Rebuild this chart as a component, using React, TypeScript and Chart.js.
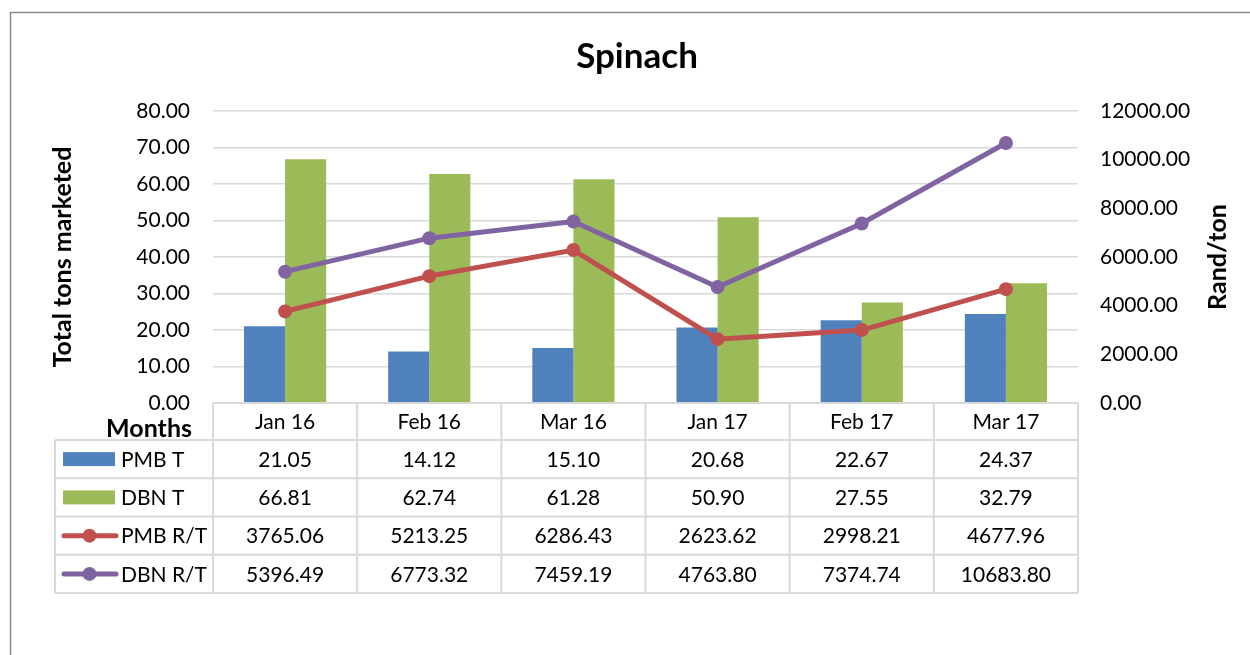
import React, { useEffect, useRef } from "react";
import { Chart, registerables } from "chart.js";

Chart.register(...registerables);

const categories = ["Jan 16", "Feb 16", "Mar 16", "Jan 17", "Feb 17", "Mar 17"];
const pmbTons = [21.05, 14.12, 15.1, 20.68, 22.67, 24.37];
const dbnTons = [66.81, 62.74, 61.28, 50.9, 27.55, 32.79];
const pmbPrice = [3765.06, 5213.25, 6286.43, 2623.62, 2998.21, 4677.96];
const dbnPrice = [5396.49, 6773.32, 7459.19, 4763.8, 7374.74, 10683.8];
const seriesNames = ["PMB T", "DBN T", "PMB R/T", "DBN R/T"];

const FONT = "Lato, 'Liberation Sans', sans-serif";
const GRID = "#d9d9d9";

const tablePlugin = {
  id: "dataTable",
  beforeDraw(chart: any) {
    const ctx = chart.ctx;
    ctx.save();
    ctx.fillStyle = "#ffffff";
    ctx.fillRect(0, 0, chart.width, chart.height);
    ctx.strokeStyle = "#8a8a8a";
    ctx.lineWidth = 1.5;
    ctx.strokeRect(10.5, 12.5, chart.width + 20, chart.height + 20);
    ctx.restore();
  },
  afterDraw(chart: any) {
    const ctx = chart.ctx;
    const { left, right, bottom, top } = chart.chartArea;
    const xs = chart.scales.x;
    const n = categories.length;
    const colW = (right - left) / n;
    const headerBottom = bottom + 37;
    const rowH = 38.25;
    const tableLeft = 55;
    const tableBottom = headerBottom + rowH * 4;

    ctx.save();
    ctx.strokeStyle = GRID;
    ctx.lineWidth = 2;
    ctx.beginPath();
    ctx.moveTo(left, bottom);
    ctx.lineTo(right, bottom);
    for (let r = 0; r <= 4; r++) {
      const y = headerBottom + r * rowH;
      ctx.moveTo(tableLeft, y);
      ctx.lineTo(right, y);
    }
    ctx.moveTo(tableLeft, headerBottom);
    ctx.lineTo(tableLeft, tableBottom);
    for (let c = 0; c <= n; c++) {
      const x = left + c * colW;
      ctx.moveTo(x, bottom);
      ctx.lineTo(x, tableBottom);
    }
    ctx.stroke();

    ctx.fillStyle = "#000";
    ctx.textBaseline = "middle";
    ctx.font = `21px ${FONT}`;
    ctx.textAlign = "center";
    categories.forEach((c, i) => {
      ctx.fillText(c, xs.getPixelForValue(i), (bottom + headerBottom) / 2 + 1);
    });

    ctx.font = `bold 25px ${FONT}`;
    ctx.textAlign = "right";
    ctx.fillText("Months", 192, headerBottom - 11);

    const rowsData = [pmbTons, dbnTons, pmbPrice, dbnPrice];
    rowsData.forEach((vals, r) => {
      const cy = headerBottom + r * rowH + rowH / 2;
      const ds = chart.data.datasets[r];
      if (r < 2) {
        ctx.fillStyle = ds.backgroundColor;
        ctx.fillRect(63, cy - 7, 52, 14);
      } else {
        ctx.strokeStyle = ds.borderColor;
        ctx.lineWidth = 5;
        ctx.lineCap = "round";
        ctx.beginPath();
        ctx.moveTo(64, cy);
        ctx.lineTo(116, cy);
        ctx.stroke();
        ctx.fillStyle = ds.borderColor;
        ctx.beginPath();
        ctx.arc(89.5, cy, 7, 0, Math.PI * 2);
        ctx.fill();
      }
      ctx.fillStyle = "#000";
      ctx.font = `21px ${FONT}`;
      ctx.textAlign = "left";
      ctx.fillText(seriesNames[r], 121, cy + 1);
      ctx.textAlign = "center";
      vals.forEach((v, i) => {
        ctx.fillText(v.toFixed(2), xs.getPixelForValue(i), cy + 1);
      });
    });

    // right axis title (reads bottom to top)
    ctx.save();
    ctx.translate(1218, (top + bottom) / 2);
    ctx.rotate(-Math.PI / 2);
    ctx.font = `bold 25px ${FONT}`;
    ctx.textAlign = "center";
    ctx.fillText("Rand/ton", 0, 0);
    ctx.restore();
    ctx.restore();
  },
};

export default function App() {
  const ref = useRef<HTMLCanvasElement | null>(null);

  useEffect(() => {
    if (!ref.current) return;
    Chart.defaults.font.family = FONT;
    Chart.defaults.color = "#000";
    const chart = new Chart(ref.current, {
      type: "bar",
      data: {
        labels: categories,
        datasets: [
          {
            type: "bar",
            label: seriesNames[0],
            data: pmbTons,
            backgroundColor: "#4F81BD",
            yAxisID: "y",
            order: 2,
            categoryPercentage: 0.57,
            barPercentage: 1,
          },
          {
            type: "bar",
            label: seriesNames[1],
            data: dbnTons,
            backgroundColor: "#9BBB59",
            yAxisID: "y",
            order: 2,
            categoryPercentage: 0.57,
            barPercentage: 1,
          },
          {
            type: "line",
            label: seriesNames[2],
            data: pmbPrice,
            borderColor: "#C0504D",
            backgroundColor: "#C0504D",
            pointBackgroundColor: "#C0504D",
            pointBorderWidth: 0,
            pointRadius: 7,
            borderWidth: 5,
            tension: 0,
            yAxisID: "y1",
            order: 1,
          },
          {
            type: "line",
            label: seriesNames[3],
            data: dbnPrice,
            borderColor: "#8064A2",
            backgroundColor: "#8064A2",
            pointBackgroundColor: "#8064A2",
            pointBorderWidth: 0,
            pointRadius: 7,
            borderWidth: 5,
            tension: 0,
            yAxisID: "y1",
            order: 0,
          },
        ] as any,
      },
      options: {
        responsive: false,
        animation: false,
        layout: { padding: { top: 10, left: 24, right: 0, bottom: 252 } },
        plugins: {
          legend: { display: false },
          tooltip: { enabled: false },
          title: {
            display: true,
            text: "Spinach",
            font: { size: 35, weight: "bold", family: FONT },
            color: "#000",
            padding: { top: 26, bottom: 33 },
          },
        },
        scales: {
          x: { display: false },
          y: {
            position: "left",
            min: 0,
            max: 80,
            ticks: {
              stepSize: 10,
              padding: 23,
              font: { size: 21 },
              callback: (v: any) => Number(v).toFixed(2),
            },
            grid: { color: GRID, lineWidth: 1.5, drawTicks: false },
            border: { display: false },
            title: {
              display: true,
              text: "Total tons marketed",
              font: { size: 25, weight: "bold" },
              padding: { top: 23.5 },
            },
            afterFit: (s: any) => {
              s.width = 213 - 24;
            },
          },
          y1: {
            position: "right",
            min: 0,
            max: 12000,
            ticks: {
              stepSize: 2000,
              padding: 22,
              font: { size: 21 },
              callback: (v: any) => Number(v).toFixed(2),
            },
            grid: { drawOnChartArea: false, drawTicks: false },
            border: { display: false },
            afterFit: (s: any) => {
              s.width = 1250 - 1078;
            },
          },
        },
      } as any,
      plugins: [tablePlugin],
    });
    return () => chart.destroy();
  }, []);

  return (
    <div style={{ position: "fixed", left: 0, top: 0, width: 1250, height: 655 }}>
      <canvas ref={ref} width={1250} height={655} style={{ display: "block" }} />
    </div>
  );
}
